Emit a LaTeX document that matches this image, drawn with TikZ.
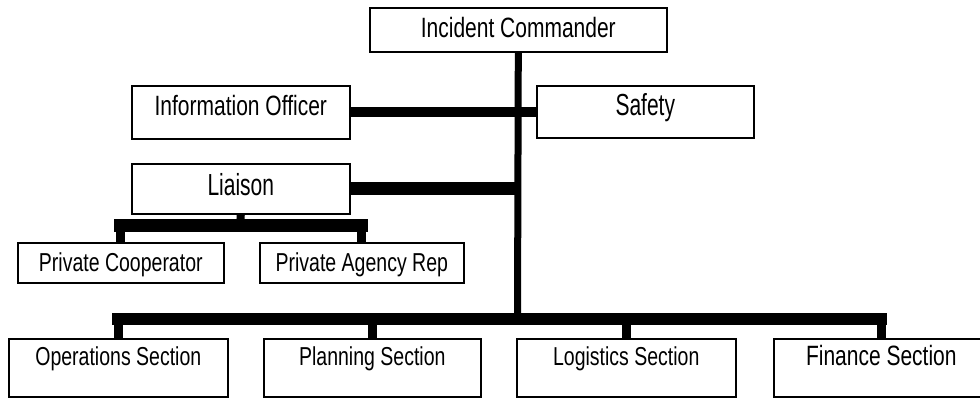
\documentclass[tikz,border=0pt]{standalone}
\usepackage{fontspec}
\setmainfont{Liberation Sans}
\usepackage{graphicx}
\newcommand{\boxtxt}[3][1.33]{{\fontsize{#2}{#2}\selectfont\scalebox{1}[#1]{#3}}}
\begin{document}
\begin{tikzpicture}[x=1pt,y=1pt,
  orgbox/.style={draw=black, line width=1.6pt, fill=white, inner xsep=0pt, inner ysep=0pt, anchor=north west},
  bar/.style={line width=#1, line cap=rect},
  stem/.style={line width=#1}]
\useasboundingbox (0,0) rectangle (980,-398);
\clip (0,0) rectangle (980,-398);

% boxes
\node[orgbox, minimum width=297pt, minimum height=44pt, text height=30pt, text depth=14pt] (ic) at (369,-7) {\boxtxt{21}{Incident Commander}};
\node[orgbox, minimum width=218pt, minimum height=53pt, text height=30pt, text depth=23pt] (info) at (131,-85) {\boxtxt{21}{Information Officer}};
\node[orgbox, minimum width=217pt, minimum height=52pt, text height=30pt, text depth=22pt] (safety) at (536,-85) {\boxtxt[1.45]{21}{Safety}};
\node[orgbox, minimum width=218pt, minimum height=50pt, text height=32pt, text depth=18pt] (liaison) at (131,-163) {\boxtxt[1.45]{21}{Liaison}};
\node[orgbox, minimum width=206pt, minimum height=40pt, text height=29pt, text depth=11pt] (pc) at (17,-242) {\boxtxt{19.5}{Private Cooperator}};
\node[orgbox, minimum width=204pt, minimum height=40pt, text height=29pt, text depth=11pt] (par) at (259,-242) {\boxtxt{19.5}{Private Agency Rep}};
\node[orgbox, minimum width=219pt, minimum height=58pt, text height=27pt, text depth=31pt] (ops) at (8,-338) {\boxtxt{19.5}{Operations Section}};
\node[orgbox, minimum width=217pt, minimum height=58pt, text height=27pt, text depth=31pt] (plan) at (263,-338) {\boxtxt{19.5}{Planning Section}};
\node[orgbox, minimum width=219pt, minimum height=58pt, text height=27pt, text depth=31pt] (log) at (516,-338) {\boxtxt{19.5}{Logistics Section}};
\node[orgbox, minimum width=215pt, minimum height=58pt, text height=27pt, text depth=31pt] (fin) at (773,-338) {\boxtxt{21}{Finance Section}};

% junction points
\coordinate (lbar) at (240,-226);
\coordinate (bbar) at (517.5,-319);

% connectors
\draw[stem=7pt] (ic.south) -- (bbar);
\draw[stem=10pt] (info.east) -- (info.east -| safety.west);
\draw[stem=13pt] (liaison.east) -- (liaison.east -| ic.south);
\draw[stem=8pt] (liaison.south) -- (lbar);
\draw[bar=13pt] (pc.north |- lbar) -- (par.north |- lbar);
\draw[stem=9pt] (pc.north |- lbar) -- (pc.north);
\draw[stem=9pt] (par.north |- lbar) -- (par.north);
\draw[bar=12pt] (ops.north |- bbar) -- (fin.north |- bbar);
\draw[stem=9pt] (ops.north |- bbar) -- (ops.north);
\draw[stem=9pt] (plan.north |- bbar) -- (plan.north);
\draw[stem=9pt] (log.north |- bbar) -- (log.north);
\draw[stem=9pt] (fin.north |- bbar) -- (fin.north);
\end{tikzpicture}
\end{document}
